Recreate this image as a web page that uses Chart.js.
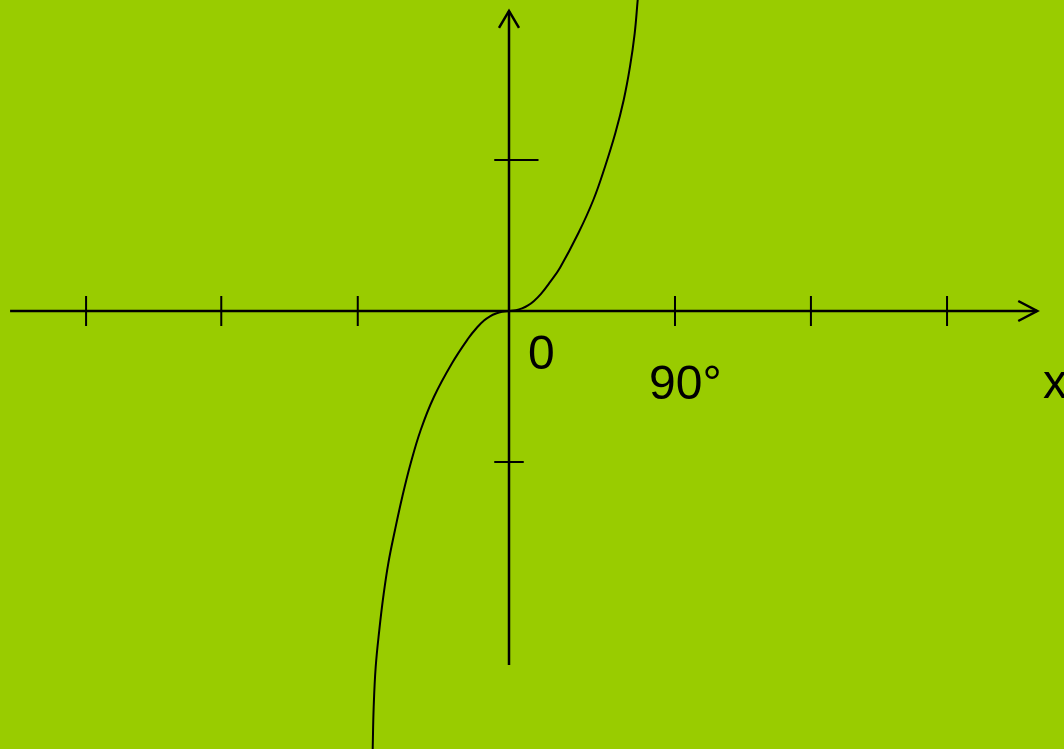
<!DOCTYPE html>
<html>
<head>
<meta charset="utf-8">
<script src="https://cdn.jsdelivr.net/npm/chart.js@4/dist/chart.umd.min.js"></script>
<style>
html,body{margin:0;padding:0;background:#99CC00;overflow:hidden;}
canvas{display:block;}
</style>
</head>
<body>
<canvas id="c" width="1064" height="749"></canvas>
<script>
// Curve samples (x in degrees, y in units of the y tick spacing)
const curveX = [-74.0, -73.90, -73.36, -72.27, -70.32, -68.15, -65.44, -61.81, -57.85, -53.30, -47.87, -40.66, -30.90, -22.23, -17.35, -13.55, -10.30, -7.048, -3.795, 0, 3.795, 7.048, 10.30, 13.55, 17.35, 22.23, 27.66, 37.57, 45.71, 52.05, 57.63, 62.19, 65.60, 68.15, 69.78, 70.38];
const curveY = [-2.974, -2.901, -2.621, -2.356, -2.113, -1.892, -1.671, -1.450, -1.230, -1.009, -0.788, -0.568, -0.346, -0.1841, -0.1093, -0.0629, -0.0351, -0.0166, -0.0053, 0, 0.0053, 0.0172, 0.0371, 0.0669, 0.1132, 0.1907, 0.2868, 0.5146, 0.7351, 0.9556, 1.1768, 1.3974, 1.6179, 1.8391, 2.0596, 2.139];
// Axis ticks
const xTickValues = [-229.3, -156.0, -82.0, 90, 163.7, 237.5];
const yTickValues = [1, -1];
const yTickRight = [16, 8]; // tick right extent in degrees-space
// Axis extents
const xAxisRange = [-270.5, 286.4];
const yAxisRange = [-2.344, 1.987];
// Labels
const labels = [
  {text: '0', x: 10.3, y: -0.384},
  {text: '90°', x: 75.9, y: -0.583},
  {text: 'x', x: 289.5, y: -0.576}
];

const scaleX = {min: -509/1.8444, max: 555/1.8444};
const scaleY = {min: -(749-311)/151, max: 311/151};

const black = '#000000';
const datasets = [];
datasets.push({
  data: curveX.map((x,i)=>({x:x, y:curveY[i]})),
  borderColor: black, borderWidth: 2, tension: 0.4
});
datasets.push({data: [{x:xAxisRange[0],y:0},{x:xAxisRange[1],y:0}], borderColor: black, borderWidth: 2.5});
datasets.push({data: [{x:0,y:yAxisRange[0]},{x:0,y:yAxisRange[1]}], borderColor: black, borderWidth: 2.5});
xTickValues.forEach(v=>{
  datasets.push({data: [{x:v,y:0.1},{x:v,y:-0.1}], borderColor: black, borderWidth: 2});
});
yTickValues.forEach((v,i)=>{
  datasets.push({data: [{x:-8,y:v},{x:yTickRight[i],y:v}], borderColor: black, borderWidth: 2});
});
datasets.forEach(d=>{d.showLine = true; d.pointRadius = 0; d.pointHoverRadius = 0; d.fill = false;});

const decor = {
  id: 'decor',
  beforeDraw(chart){
    const c = chart.ctx;
    c.save();
    c.fillStyle = '#99CC00';
    c.fillRect(0,0,chart.width,chart.height);
    c.restore();
  },
  afterDatasetsDraw(chart){
    const c = chart.ctx, sx = chart.scales.x, sy = chart.scales.y;
    c.save();
    c.strokeStyle = black; c.lineWidth = 2.5; c.lineCap = 'butt'; c.lineJoin='miter';
    // y arrow
    const yx = sx.getPixelForValue(0), yt = sy.getPixelForValue(yAxisRange[1]);
    c.beginPath(); c.moveTo(yx-10, yt+17); c.lineTo(yx, yt); c.lineTo(yx+10, yt+17); c.stroke();
    // x arrow
    const xt = sx.getPixelForValue(xAxisRange[1]), xy = sy.getPixelForValue(0);
    c.beginPath(); c.moveTo(xt-19, xy-10); c.lineTo(xt, xy); c.lineTo(xt-19, xy+10); c.stroke();
    // labels
    c.fillStyle = black;
    c.font = '48px "Liberation Sans", Arial, sans-serif';
    c.textBaseline = 'alphabetic'; c.textAlign = 'left';
    labels.forEach(l=>{ c.fillText(l.text, sx.getPixelForValue(l.x), sy.getPixelForValue(l.y)); });
    c.restore();
  }
};

new Chart(document.getElementById('c'), {
  type: 'scatter',
  data: {datasets},
  options: {
    responsive: false, animation: false, devicePixelRatio: 1,
    layout: {padding: 0},
    plugins: {legend: {display: false}, tooltip: {enabled: false}},
    events: [],
    scales: {
      x: {type: 'linear', display: false, min: scaleX.min, max: scaleX.max},
      y: {type: 'linear', display: false, min: scaleY.min, max: scaleY.max}
    }
  },
  plugins: [decor]
});
</script>
</body>
</html>
